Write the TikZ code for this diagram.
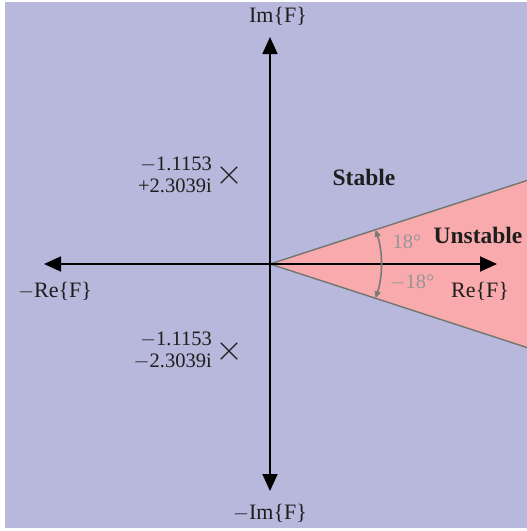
\documentclass[tikz,border=0pt]{standalone}
\usepackage{fontspec}
\setmainfont{Liberation Serif}
\usetikzlibrary{arrows.meta,shapes.misc}
\definecolor{bgc}{RGB}{184,184,220}
\definecolor{pinkc}{RGB}{249,170,172}
\definecolor{edgec}{RGB}{112,118,112}
\definecolor{arcc}{RGB}{118,124,118}
\definecolor{anglec}{RGB}{150,150,150}
\definecolor{txt}{RGB}{30,30,30}
\tikzset{
  axis/.style={line width=1.8pt, -{Triangle[length=17pt,width=15pt]}},
  lbl/.style={font=\fontsize{22}{22}\selectfont, text=txt, inner sep=0pt},
  boldlbl/.style={font=\fontsize{23.5}{22}\selectfont\bfseries, text=txt, inner sep=0pt},
  anglbl/.style={font=\fontsize{20.5}{22}\selectfont, text=anglec, inner sep=0pt},
  pole/.style={cross out, draw=txt, line width=1.3pt, minimum size=15pt, inner sep=0pt},
  polelbl/.style={font=\fontsize{20.5}{22}\selectfont, text=txt, inner sep=0pt, align=right},
  arcline/.style={draw=arcc, line width=1.6pt, {Triangle[length=7pt,width=6pt]}-{Triangle[length=7pt,width=6pt]}},
}
\begin{document}
\begin{tikzpicture}[x=1pt,y=-1pt]
\fill[bgc] (5,2) rectangle (527,528);
\useasboundingbox (0,0) rectangle (527,531);
\coordinate (O) at (270,264);
\coordinate (T1) at (527,180.5);
\coordinate (T2) at (527,347.5);
\coordinate (N) at (270,37);
\coordinate (S) at (270,491);
\coordinate (W) at (44,264);
\coordinate (E) at (497,264);
\fill[pinkc] (O) -- (T1) -- (T2) -- cycle;
\draw[edgec, line width=1.4pt] (T1) -- (O) -- (T2);
\draw[axis] (O) -- (N);
\draw[axis] (O) -- (S);
\draw[axis] (O) -- (W);
\draw[axis] (O) -- (E);
\draw[arcline] (O) ++(-18:111) arc[start angle=-18, end angle=18, radius=111];
\node[lbl] (im) at (278,16) {Im\{F\}};
\node[lbl] (mim) at (270,513) {$-$Im\{F\}};
\node[lbl] (mre) at (55,291) {$-$Re\{F\}};
\node[lbl] (re) at (480,291) {Re\{F\}};
\node[boldlbl] (st) at (364,177) {Stable};
\node[boldlbl] (un) at (478,235) {Unstable};
\node[anglbl] (a1) at (407,242) {18°};
\node[anglbl] (a2) at (412,283) {$-$18°};
\node[pole] (p1) at (229,175) {};
\node[pole] (p2) at (229,351) {};
\node[polelbl, anchor=east] (l1) at (212,175) {$-$1.1153\\+2.3039i};
\node[polelbl, anchor=east] (l2) at (212,351) {$-$1.1153\\$-$2.3039i};
\end{tikzpicture}
\end{document}
